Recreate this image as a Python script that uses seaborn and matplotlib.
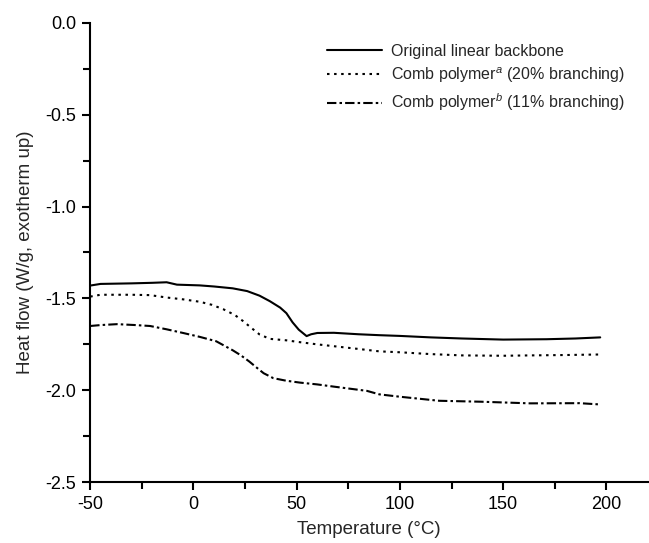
import numpy as np
import pandas as pd
import matplotlib
matplotlib.use("Agg")
import matplotlib.pyplot as plt
import seaborn as sns
from matplotlib.ticker import MultipleLocator, FormatStrFormatter

# DSC traces (heat flow vs temperature)
temp_linear = [-50, -45, -30, -20, -13, -8, 3, 10, 19, 26, 32, 37, 42, 45, 48, 51, 54.8, 57, 60, 68, 80, 90, 100, 115, 130, 150, 171, 185, 197]
flow_linear = [-1.43, -1.421, -1.418, -1.415, -1.412, -1.425, -1.429, -1.435, -1.445, -1.46, -1.485, -1.515, -1.55, -1.58, -1.63, -1.67, -1.705, -1.695, -1.688, -1.687, -1.695, -1.70, -1.704, -1.712, -1.718, -1.724, -1.722, -1.718, -1.712]

temp_comb_a = [-50, -45, -30, -21, -13, -5, 3, 9, 14.5, 20, 24, 28, 32, 37, 45, 51.5, 60, 68, 80, 90, 100, 115, 130, 150, 163, 180, 197]
flow_comb_a = [-1.49, -1.48, -1.48, -1.482, -1.495, -1.505, -1.518, -1.535, -1.559, -1.59, -1.623, -1.66, -1.696, -1.72, -1.728, -1.738, -1.75, -1.76, -1.775, -1.788, -1.793, -1.803, -1.81, -1.812, -1.81, -1.808, -1.805]

temp_comb_b = [-50, -45, -37, -28, -21, -13, -5, 3, 11, 19, 23, 27, 31, 34, 38.7, 45, 51.5, 60, 68, 84, 90, 100, 119, 139, 163, 187, 197]
flow_comb_b = [-1.65, -1.645, -1.64, -1.645, -1.65, -1.668, -1.688, -1.709, -1.733, -1.782, -1.81, -1.843, -1.88, -1.907, -1.934, -1.948, -1.958, -1.968, -1.98, -2.003, -2.022, -2.035, -2.057, -2.062, -2.071, -2.07, -2.077]

series_names = [
    "Original linear backbone",
    r"Comb polymer$^{\mathit{a}}$ (20% branching)",
    r"Comb polymer$^{\mathit{b}}$ (11% branching)",
]

df = pd.concat([
    pd.DataFrame({"T": temp_linear, "HF": flow_linear, "sample": series_names[0]}),
    pd.DataFrame({"T": temp_comb_a, "HF": flow_comb_a, "sample": series_names[1]}),
    pd.DataFrame({"T": temp_comb_b, "HF": flow_comb_b, "sample": series_names[2]}),
], ignore_index=True)

sns.set_theme(style="ticks")
plt.rcParams["font.family"] = ["Liberation Sans", "DejaVu Sans"]
plt.rcParams["mathtext.fontset"] = "custom"
plt.rcParams["mathtext.rm"] = "Liberation Sans"
plt.rcParams["mathtext.it"] = "Liberation Sans:italic"
plt.rcParams["axes.unicode_minus"] = False

fig = plt.figure(figsize=(6.49, 5.43), dpi=100)
ax = fig.add_axes([0.139, 0.112, 0.859, 0.846])

dash_map = {
    series_names[0]: "",
    series_names[1]: (1.2, 2.2),
    series_names[2]: (4.5, 1.5, 1.2, 1.5),
}
sns.lineplot(data=df, x="T", y="HF", hue="sample", style="sample",
             palette=["black"] * 3, dashes=dash_map, linewidth=1.5,
             sort=False, estimator=None, ax=ax)

ax.set_xlim(-50, 220)
ax.set_ylim(-2.5, 0.0)
ax.set_xticks([-50, 0, 50, 100, 150, 200])
ax.xaxis.set_minor_locator(MultipleLocator(25))
ax.yaxis.set_major_locator(MultipleLocator(0.5))
ax.yaxis.set_minor_locator(MultipleLocator(0.25))
ax.yaxis.set_major_formatter(FormatStrFormatter("%.1f"))

for side in ("top", "right"):
    ax.spines[side].set_visible(False)
for side in ("left", "bottom"):
    ax.spines[side].set_linewidth(1.5)
    ax.spines[side].set_color("black")
ax.tick_params(which="major", length=6, width=1.5, colors="black", labelsize=13, pad=4)
ax.tick_params(which="minor", length=5, width=1.5, colors="black")

ax.set_xlabel("Temperature (°C)", fontsize=13.5, labelpad=6)
ax.set_ylabel("Heat flow (W/g, exotherm up)", fontsize=13.5, labelpad=8)

leg = ax.legend(loc="upper right", bbox_to_anchor=(0.985, 0.985), frameon=False,
                fontsize=11.5, handlelength=3.4, handletextpad=0.6, labelspacing=0.4)

fig.savefig("out.png", dpi=100)
